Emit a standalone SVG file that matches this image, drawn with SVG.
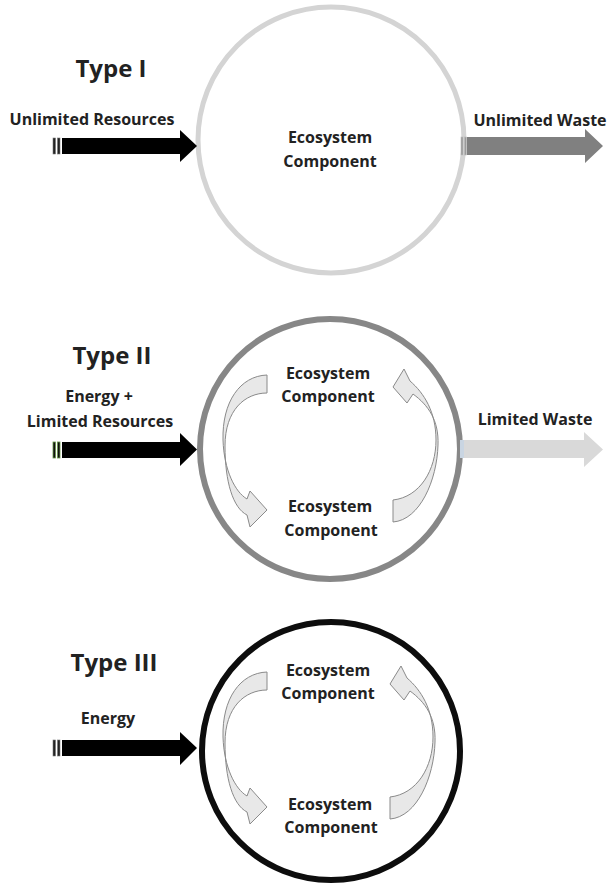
<svg xmlns="http://www.w3.org/2000/svg" width="609" height="886" viewBox="0 0 609 886">
<style>
text{font-family:"Open Sans","Liberation Sans",sans-serif;font-weight:700;fill:#222;text-anchor:middle}
.title{font-size:24px}
.lbl{font-size:16px}
.ring{fill:#fff}
.cv{fill:#e8e8e8;stroke:#8a8a8a;stroke-width:1}
</style>
<defs>
<path id="leftCurve" d="M267,375 C240,376 222,402 223,440 C224,470 235,492 247,499 L250,491 L267,510 L250,527 L247,515 C233,508 225,482 225,446 C225,410 245,393 267,393 Z"/>
<path id="rightCurve" d="M393,500 C420,497 436,470 436,440 C436,412 424,393 410,381 L404,369 L393,387 L407,403 L413,394 C428,405 439,420 438,445 C437,480 420,520 393,522 Z"/>
</defs>

<g id="type1">
  <text class="title" x="111" y="77">Type I</text>
  <g id="t1-circle">
    <circle class="ring" cx="331" cy="140" r="133" stroke="#d4d4d4" stroke-width="5"/>
    <text class="lbl" x="330" y="143">Ecosystem</text>
    <text class="lbl" x="330" y="167">Component</text>
  </g>
</g>
<g id="type2">
  <text class="title" x="112" y="364">Type II</text>
  <g id="t2-circle">
    <circle class="ring" cx="330" cy="449" r="130" stroke="#878787" stroke-width="6"/>
  </g>
  <g id="t2-top">
    <text class="lbl" x="328" y="379">Ecosystem</text>
    <text class="lbl" x="328" y="402">Component</text>
  </g>
  <g id="t2-bottom">
    <text class="lbl" x="330" y="512">Ecosystem</text>
    <text class="lbl" x="331" y="536">Component</text>
  </g>
</g>
<g id="type3">
  <text class="title" x="114" y="671">Type III</text>
  <g id="t3-circle">
    <circle class="ring" cx="331" cy="751" r="129" stroke="#0d0d0d" stroke-width="6"/>
  </g>
  <g id="t3-top">
    <text class="lbl" x="328" y="676">Ecosystem</text>
    <text class="lbl" x="328" y="699">Component</text>
  </g>
  <g id="t3-bottom">
    <text class="lbl" x="330" y="810">Ecosystem</text>
    <text class="lbl" x="331" y="833">Component</text>
  </g>
</g>

<g id="connectors">
  <!-- Type I inflow -->
  <g id="arrow-unlimited-resources">
    <text class="lbl" x="92" y="125">Unlimited Resources</text>
    <rect x="53" y="138" width="2.5" height="16" fill="#222" stroke="#777" stroke-width="0.6"/>
    <rect x="57.5" y="138" width="2.5" height="16" fill="#222" stroke="#777" stroke-width="0.6"/>
    <path d="M62,138 H180 V130 L197,146 L180,162 V154 H62 Z" fill="#000"/>
  </g>
  <g id="arrow-unlimited-waste">
    <text class="lbl" x="540" y="126">Unlimited Waste</text>
    <rect x="461" y="137" width="2" height="18" fill="#9a9a9a" stroke="#bbb" stroke-width="0.6"/>
    <rect x="464.5" y="137" width="2" height="18" fill="#9a9a9a" stroke="#bbb" stroke-width="0.6"/>
    <path d="M467,137 H585 V129 L603,146 L585,163 V155 H467 Z" fill="#808080"/>
  </g>
  <!-- Type II -->
  <g id="arrow-energy-limited">
    <text class="lbl" x="99" y="402">Energy +</text>
    <text class="lbl" x="100" y="427">Limited Resources</text>
    <rect x="53" y="442" width="2.5" height="16" fill="#111" stroke="#6a9a4a" stroke-width="0.8"/>
    <rect x="57.5" y="442" width="2.5" height="16" fill="#111" stroke="#6a9a4a" stroke-width="0.8"/>
    <path d="M62,442 H180 V433 L197,449.5 L180,466 V458 H62 Z" fill="#000"/>
  </g>
  <g id="arrow-limited-waste">
    <text class="lbl" x="535" y="425">Limited Waste</text>
    <rect x="460" y="440" width="4" height="18" fill="#c9d5e2"/>
    <path d="M464,440 H584 V432 L603,449.5 L584,467 V458 H464 Z" fill="#d9d9d9"/>
  </g>
  <g id="t2-cycle">
    <use href="#leftCurve" class="cv"/>
    <use href="#rightCurve" class="cv"/>
  </g>
  <!-- Type III -->
  <g id="arrow-energy">
    <text class="lbl" x="108" y="724">Energy</text>
    <rect x="53" y="740" width="2.5" height="16" fill="#222" stroke="#777" stroke-width="0.6"/>
    <rect x="57.5" y="740" width="2.5" height="16" fill="#222" stroke="#777" stroke-width="0.6"/>
    <path d="M62,740 H180 V732 L197,748 L180,765 V756 H62 Z" fill="#000"/>
  </g>
  <g id="t3-cycle">
    <use href="#leftCurve" class="cv" transform="translate(0,297)"/>
    <use href="#rightCurve" class="cv" transform="translate(-3,297)"/>
  </g>
</g>
</svg>
